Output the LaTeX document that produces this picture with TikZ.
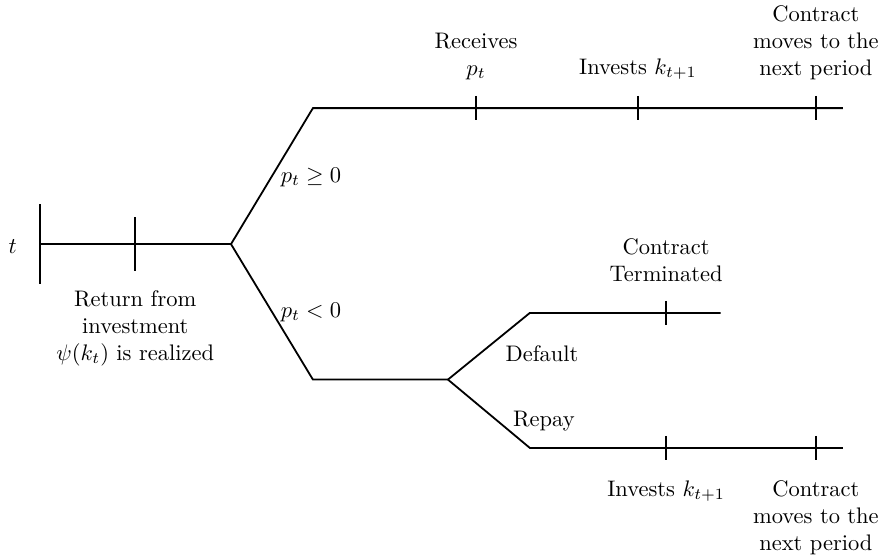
\documentclass[tikz,border=0pt]{standalone}
\usepackage{amsmath}

\begin{document}
\begin{tikzpicture}[
    line/.style = {thick},
    tickmark/.style = {thick},
    lbl/.style  = {align=center}
]
\useasboundingbox (0,0) rectangle (13.83, 8.69);

% period t: start, return realized, fork on p_t
\coordinate (t0)   at (0.63, 4.875);
\coordinate (ret)  at (2.114, 4.875);
\coordinate (fork) at (3.61, 4.875);
\node (tlbl) at (0.2, 4.84) {$t$};
\draw[line] (t0) -- (ret) -- (fork);
\draw[tickmark] ([yshift=0.625cm]t0) -- ([yshift=-0.625cm]t0);
\draw[tickmark] ([yshift=0.42cm]ret) -- ([yshift=-0.42cm]ret);
\node[lbl, anchor=north] (retlbl) at ([yshift=-0.6cm]ret)
    {Return from\\investment\\$\psi(k_t)$ is realized};

% upper branch: p_t >= 0
\coordinate (up)    at (4.89, 7.0);
\coordinate (upend) at (13.17, 7.0);
\draw[line] (fork) -- (up) -- (upend);
\node (geq) at (4.86, 5.92) {$p_t \geq 0$};
\foreach \n/\x/\txt in {rec/7.44/{Receives\\$p_t$},
                        inv/9.97/{Invests $k_{t+1}$},
                        nxt/12.75/{Contract\\moves to the\\next period}} {
    \coordinate (\n) at (\x, 7.0);
    \draw[tickmark] ([yshift=0.19cm]\n) -- ([yshift=-0.19cm]\n);
    \node[lbl, anchor=south] (\n lbl) at ([yshift=0.32cm]\n) {\txt};
}

% lower branch: p_t < 0
\coordinate (low)   at (4.89, 2.758);
\coordinate (fork2) at (7.0, 2.758);
\draw[line] (fork) -- (low) -- (fork2);
\node (lt) at (4.86, 3.81) {$p_t < 0$};

% default
\coordinate (def)    at (8.28, 3.80);
\coordinate (defend) at (11.26, 3.80);
\coordinate (term)   at (10.41, 3.80);
\draw[line] (fork2) -- (def) -- (defend);
\draw[tickmark] ([yshift=0.19cm]term) -- ([yshift=-0.19cm]term);
\node[lbl, anchor=south] (termlbl) at ([yshift=0.37cm]term) {Contract\\Terminated};
\node (deflbl) at (8.47, 3.17) {Default};

% repay
\coordinate (rep)    at (8.28, 1.69);
\coordinate (repend) at (13.17, 1.69);
\draw[line] (fork2) -- (rep) -- (repend);
\node (replbl) at (8.5, 2.11) {Repay};
\foreach \n/\x/\txt in {inv2/10.41/{Invests $k_{t+1}$},
                        nxt2/12.75/{Contract\\moves to the\\next period}} {
    \coordinate (\n) at (\x, 1.69);
    \draw[tickmark] ([yshift=0.19cm]\n) -- ([yshift=-0.19cm]\n);
    \node[lbl, anchor=north] (\n lbl) at ([yshift=-0.39cm]\n) {\txt};
}

\end{tikzpicture}
\end{document}
